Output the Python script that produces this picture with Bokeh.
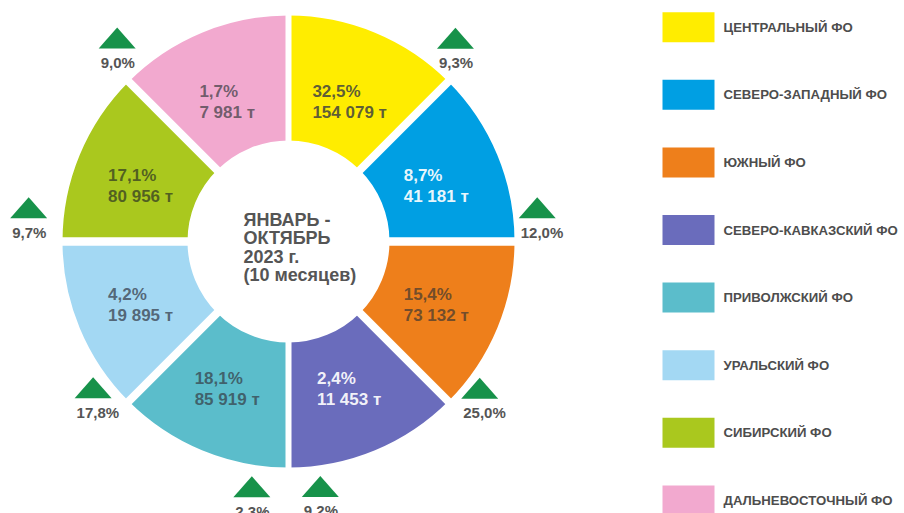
import math
from bokeh.plotting import figure
from bokeh.models import Range1d, ColumnDataSource
from bokeh.core.properties import value
from bokeh.embed import file_html
from bokeh.resources import INLINE

# ---------------- data ----------------
regions = ["ЦЕНТРАЛЬНЫЙ ФО", "СЕВЕРО-ЗАПАДНЫЙ ФО", "ЮЖНЫЙ ФО", "СЕВЕРО-КАВКАЗСКИЙ ФО",
           "ПРИВОЛЖСКИЙ ФО", "УРАЛЬСКИЙ ФО", "СИБИРСКИЙ ФО", "ДАЛЬНЕВОСТОЧНЫЙ ФО"]
share_pct = ["32,5%", "8,7%", "15,4%", "2,4%", "18,1%", "4,2%", "17,1%", "1,7%"]
tonnes = [154079, 41181, 73132, 11453, 85919, 19895, 80956, 7981]
growth_pct = ["9,3%", "12,0%", "25,0%", "9,2%", "2,3%", "17,8%", "9,7%", "9,0%"]
center_title = ["ЯНВАРЬ -", "ОКТЯБРЬ", "2023 г.", "(10 месяцев)"]

# ---------------- styles / layout ----------------
colors = ["#ffed00", "#009fe3", "#ee7f1b", "#6a6cbc", "#5bbdcb", "#a3d8f3", "#aac81e", "#f2a9cf"]
label_colors = ["#55553a", "#ffffff", "#6b4a2c", "#ffffff", "#3f5c66", "#4f6070", "#4d5a22", "#6a5866"]
label_alpha = [0.95, 0.92, 0.95, 0.92, 0.95, 0.95, 0.95, 0.95]
# growth marker placement around ring (degrees, radius in px)
marker_angle = [50.6, 7.7, -37.5, -82.6, -98.5, 216.8, 172.6, 130.1]
marker_radius = [263, 251, 241, 247, 248, 244, 262, 266]

W, H = 904, 513
CX, CY = 288, 513 - 241
R_OUT, R_IN = 226, 101
FONT = value("Liberation Sans")

def fmt_t(v):
    s = f"{v:,}".replace(",", " ")
    return s + " т"

CHAR_W = {"%": 0.889, " ": 0.278, ",": 0.278, "т": 0.5}
def text_w(s, size):
    return sum(CHAR_W.get(c, 0.556) for c in s) * size

p = figure(width=W, height=H, x_range=Range1d(0, W), y_range=Range1d(0, H),
           output_backend="svg", toolbar_location=None, min_border=0)
p.axis.visible = False
p.grid.visible = False
p.outline_line_color = None
p.background_fill_color = "white"
p.border_fill_color = "white"

n = len(regions)
step = 2 * math.pi / n
starts, ends, mids = [], [], []
for i in range(n):
    a_top = math.pi / 2 - i * step
    starts.append(a_top - step)
    ends.append(a_top)
    mids.append(a_top - step / 2)

src = ColumnDataSource(dict(start=starts, end=ends, color=colors))
p.annular_wedge(x=CX, y=CY, inner_radius=R_IN, outer_radius=R_OUT, start_angle="start",
                end_angle="end", fill_color="color", line_color=None, source=src)

# white gaps between segments
gx1, gy1, gw = [], [], []
for i in range(n):
    a = ends[i]
    gx1.append(CX + (R_OUT + 6) * math.cos(a))
    gy1.append(CY + (R_OUT + 6) * math.sin(a))
    ca, sa = abs(math.cos(a)), abs(math.sin(a))
    gw.append(6 if ca < 0.1 else (8.5 if sa < 0.1 else 8))
p.segment(x0=[CX] * n, y0=[CY] * n, x1=gx1, y1=gy1, line_color="white",
          line_width=gw, line_cap="butt")

# segment labels
fs = 17
lx, ly, lt = [], [], []
for i in range(n):
    l1, l2 = share_pct[i], fmt_t(tonnes[i])
    w = max(text_w(l1, fs), text_w(l2, fs))
    bx = CX + 160 * math.cos(mids[i])
    by = CY + 155 * math.sin(mids[i]) - 4
    lx.append(bx - w / 2)
    ly.append(by)
    lt.append(l1 + "\n" + l2)
p.text(x=lx, y=ly, text=lt, text_color=label_colors, text_alpha=label_alpha,
       text_font=FONT, text_font_style="bold", text_font_size=f"{fs}px",
       text_align="left", text_baseline="middle", text_line_height=1.12)

# center title
p.text(x=[CX - 45], y=[CY - 6], text=["\n".join(center_title)], text_color="#555555",
       text_font=FONT, text_font_style="bold", text_font_size="18px",
       text_align="left", text_baseline="middle", text_line_height=0.93)

# growth markers
tw, th = 37, 21
txs, tys, mx, my = [], [], [], []
for a, r in zip(marker_angle, marker_radius):
    x = CX + r * math.cos(math.radians(a))
    y = CY + r * math.sin(math.radians(a))
    txs.append([x - tw / 2, x + tw / 2, x])
    tys.append([y - th / 2, y - th / 2, y + th / 2])
    mx.append(x - tw / 2 + 2)
    my.append(y - 24.5)
p.patches(xs=txs, ys=tys, fill_color="#17924a", line_color=None)
p.text(x=mx, y=my, text=growth_pct, text_color="#555555", text_font=FONT,
       text_font_style="bold", text_font_size="15px", text_align="left",
       text_baseline="middle")

# legend
leg_x0, leg_w, leg_h = 662, 52, 30
leg_top, leg_step = 513 - 26.7, 67.6
rx = [leg_x0 + leg_w / 2] * n
ry = [leg_top - i * leg_step for i in range(n)]
p.rect(x=rx, y=ry, width=leg_w, height=leg_h, fill_color=colors, line_color=None)
p.text(x=[723] * n, y=ry, text=regions, text_color="#4d4d4d", text_font=FONT,
       text_font_style="bold", text_font_size="13.2px", text_align="left",
       text_baseline="middle")

open("out.html", "w").write(file_html(p, INLINE))
